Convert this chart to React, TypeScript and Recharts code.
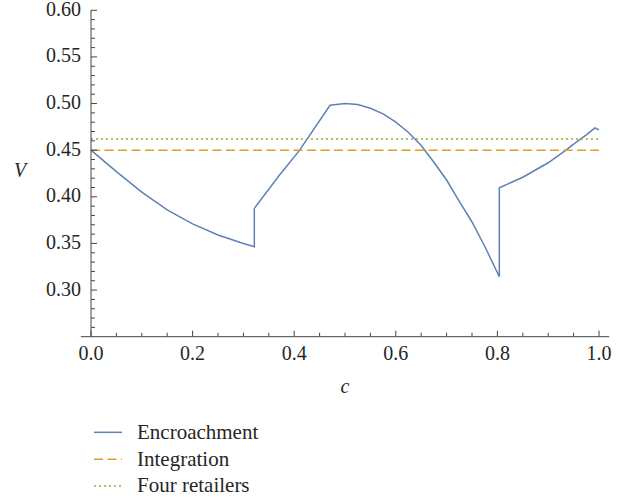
import React from 'react';
import { LineChart, Line, XAxis, YAxis, ReferenceLine, Legend, Label } from 'recharts';

// ---- data ----
const encroachmentC = [
  0, 0.05, 0.1, 0.15, 0.2, 0.25, 0.3, 0.3215,
  0.3215, 0.37, 0.41, 0.4705,
  0.5, 0.525, 0.55, 0.575, 0.6, 0.625, 0.65, 0.675, 0.7, 0.725, 0.75, 0.775, 0.8038,
  0.8038, 0.85, 0.9, 0.935, 0.95, 0.975, 0.9921, 1.0,
];
const encroachmentV = [
  0.45, 0.427, 0.405, 0.386, 0.371, 0.359, 0.35, 0.3465,
  0.3876, 0.4225, 0.4495, 0.4982,
  0.5, 0.499, 0.495, 0.489, 0.48, 0.469, 0.455, 0.437, 0.418, 0.395, 0.373, 0.347, 0.3143,
  0.4097, 0.421, 0.4365, 0.45, 0.4565, 0.4665, 0.474, 0.4718,
];
const integrationC = [0, 1];
const integrationV = [0.45, 0.45];
const fourRetailersC = [0, 1];
const fourRetailersV = [0.462, 0.462];

const xMajorTicks = [0, 0.2, 0.4, 0.6, 0.8, 1.0];
const xTickLabels = ['0.0', '0.2', '0.4', '0.6', '0.8', '1.0'];
const yMajorTicks = [0.3, 0.35, 0.4, 0.45, 0.5, 0.55, 0.6];
const yTickLabels = ['0.30', '0.35', '0.40', '0.45', '0.50', '0.55', '0.60'];
const xAllTicks = Array.from({ length: 21 }, (_, i) => i / 20);
const yAllTicks = Array.from({ length: 35 }, (_, i) => (26 + i) / 100);

const seriesNames = ['Encroachment', 'Integration', 'Four retailers'];
const seriesColors = ['#5E81B5', '#E19C24', '#8FB032'];
const seriesDash = ['', '9 4.5', '2 3'];

const toRows = (cs: number[], vs: number[]) => cs.map((c, i) => ({ c, v: vs[i] }));
const encroachmentData = toRows(encroachmentC, encroachmentV);
const integrationData = toRows(integrationC, integrationV);
const fourRetailersData = toRows(fourRetailersC, fourRetailersV);
const seriesData = [encroachmentData, integrationData, fourRetailersData];

const FONT = '"Liberation Serif", "Times New Roman", serif';
const AXIS = '#444';
const TEXT = '#262626';

const findIdx = (arr: number[], v: number) => arr.findIndex((t) => Math.abs(t - v) < 1e-9);

const XTick = (props: any) => {
  const { x, y, payload } = props;
  const idx = findIdx(xMajorTicks, payload.value);
  const major = idx >= 0;
  return (
    <g>
      <line x1={x} x2={x} y1={y} y2={y - (major ? 6 : 4)} stroke={AXIS} strokeWidth={1} />
      {major && (
        <text x={x} y={y + 23} textAnchor="middle" fontFamily={FONT} fontSize={20} fill={TEXT}>
          {xTickLabels[idx]}
        </text>
      )}
    </g>
  );
};

const YTick = (props: any) => {
  const { x, y, payload } = props;
  const idx = findIdx(yMajorTicks, payload.value);
  const major = idx >= 0;
  return (
    <g>
      <line x1={x} x2={x + (major ? 6 : 4)} y1={y} y2={y} stroke={AXIS} strokeWidth={1} />
      {major && (
        <text x={x - 10} y={y + 5.5} textAnchor="end" fontFamily={FONT} fontSize={20} fill={TEXT}>
          {yTickLabels[idx]}
        </text>
      )}
    </g>
  );
};

const renderLegend = () => (
  <svg width={220} height={84} style={{ display: 'block' }}>
    {seriesNames.map((n, i) => (
      <g key={n}>
        <line
          x1={0}
          x2={28}
          y1={14.3 + i * 26.85}
          y2={14.3 + i * 26.85}
          stroke={seriesColors[i]}
          strokeWidth={1.5}
          strokeDasharray={seriesDash[i] || undefined}
        />
        <text x={43} y={21 + i * 26.65} fontFamily={FONT} fontSize={21} fill={TEXT}>
          {n}
        </text>
      </g>
    ))}
  </svg>
);

export default function App() {
  return (
    <div style={{ position: 'absolute', left: 0, top: 0, width: 629, height: 500 }}>
      <LineChart width={629} height={500} margin={{ top: 10.3, right: 30, bottom: 133.3, left: 16 }}>
        <XAxis
          type="number"
          dataKey="c"
          domain={[0, 1]}
          ticks={xAllTicks}
          interval={0}
          tick={<XTick />}
          tickLine={false}
          tickSize={0}
          tickMargin={0}
          axisLine={false}
          height={30}
        >
          <Label
            value="c"
            position="bottom"
            offset={12}
            style={{ fontFamily: FONT, fontStyle: 'italic', fontSize: 20, fill: TEXT }}
          />
        </XAxis>
        <YAxis
          type="number"
          domain={[0.25, 0.6]}
          ticks={yAllTicks}
          interval={0}
          tick={<YTick />}
          tickLine={false}
          tickSize={0}
          tickMargin={0}
          axisLine={{ stroke: AXIS, strokeWidth: 1 }}
          width={75}
        >
          <Label
            value="V"
            position="insideLeft"
            offset={-2}
            dy={-3.5}
            style={{ fontFamily: FONT, fontStyle: 'italic', fontSize: 20, fill: TEXT }}
          />
        </YAxis>
        <ReferenceLine
          segment={[
            { x: -0.02, y: 0.25 },
            { x: 1.02, y: 0.25 },
          ]}
          stroke={AXIS}
          strokeWidth={1}
          ifOverflow="visible"
        />
        {seriesNames.map((n, i) => (
          <Line
            key={n}
            data={seriesData[i]}
            dataKey="v"
            name={n}
            type="linear"
            stroke={seriesColors[i]}
            strokeWidth={1.5}
            strokeDasharray={seriesDash[i] || undefined}
            dot={false}
            activeDot={false}
            isAnimationActive={false}
          />
        ))}
        <Legend
          layout="vertical"
          align="center"
          verticalAlign="middle"
          wrapperStyle={{ left: 94, top: 418, width: 220 }}
          content={renderLegend}
        />
      </LineChart>
    </div>
  );
}
